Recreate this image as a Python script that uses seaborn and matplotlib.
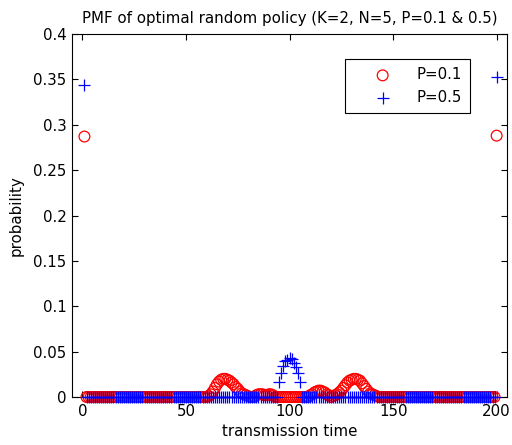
import numpy as np
import pandas as pd
import matplotlib
matplotlib.use("Agg")
import matplotlib.pyplot as plt
import seaborn as sns

# transmission time axis
times = list(range(1, 201))

# P=0.1 : end points and the non-zero bumps
p01_first, p01_last = 0.287, 0.288
p01_bump_x = list(range(61, 81)) + list(range(84, 93)) + list(range(110, 120)) + list(range(121, 143))
p01_bump_y = [0.001, 0.003, 0.006, 0.010, 0.014, 0.017, 0.019, 0.020, 0.020, 0.019,
              0.018, 0.016, 0.014, 0.011, 0.009, 0.006, 0.004, 0.003, 0.002, 0.001,
              0.002, 0.003, 0.003, 0.003, 0.002, 0.002, 0.003, 0.003, 0.002,
              0.002, 0.003, 0.005, 0.006, 0.007, 0.007, 0.006, 0.005, 0.003, 0.002,
              0.001, 0.002, 0.003, 0.005, 0.007, 0.010, 0.013, 0.016, 0.018, 0.019,
              0.020, 0.020, 0.019, 0.018, 0.015, 0.012, 0.009, 0.006, 0.004, 0.003,
              0.002, 0.001]

# P=0.5 : end points and the bump around t=100
p05_first, p05_last = 0.344, 0.353
p05_bump_x = list(range(95, 106))
p05_bump_y = [0.016, 0.026, 0.034, 0.040, 0.041, 0.043, 0.042, 0.037, 0.033, 0.026, 0.016]

p01 = dict.fromkeys(times, 0.0)
p01.update(zip(p01_bump_x, p01_bump_y))
p01[1], p01[200] = p01_first, p01_last
p05 = dict.fromkeys(times, 0.0)
p05.update(zip(p05_bump_x, p05_bump_y))
p05[1], p05[200] = p05_first, p05_last

df = pd.DataFrame({"t": times,
                   "p01": [p01[t] for t in times],
                   "p05": [p05[t] for t in times]})

sns.set_style("ticks")
plt.rcParams["font.family"] = ["DejaVu Sans"]
plt.rcParams["text.color"] = "black"
plt.rcParams["axes.labelcolor"] = "black"
fs = 10.8

fig = plt.figure(figsize=(5.12, 4.45), dpi=100)
ax = fig.add_axes([72 / 512, 48 / 445, 435 / 512, 363 / 445])

sns.scatterplot(data=df, x="t", y="p01", ax=ax, marker="o", s=60,
                facecolors="none", edgecolor="red", linewidth=0.9,
                clip_on=False, label="P=0.1", zorder=3)
sns.scatterplot(data=df, x="t", y="p05", ax=ax, marker="+", s=70,
                color="blue", linewidth=0.9, clip_on=False, label="P=0.5", zorder=4)

ax.set_xlim(-5, 205)
ax.set_ylim(0, 0.4)
ax.set_xticks([0, 50, 100, 150, 200])
ax.set_yticks([0, 0.05, 0.1, 0.15, 0.2, 0.25, 0.3, 0.35, 0.4])
ax.set_yticklabels(["0", "0.05", "0.1", "0.15", "0.2", "0.25", "0.3", "0.35", "0.4"])
ax.tick_params(direction="in", top=True, right=True, length=4, width=0.8,
               labelsize=fs, colors="black")
ax.tick_params(axis="x", pad=5)
ax.tick_params(axis="y", pad=4)
for sp in ax.spines.values():
    sp.set_visible(True)
    sp.set_color("black")
    sp.set_linewidth(0.8)

ax.set_title("PMF of optimal random policy (K=2, N=5, P=0.1 & 0.5)", fontsize=fs, pad=8,
             color="black")
ax.set_xlabel("transmission time", fontsize=fs, labelpad=4)
ax.set_ylabel("probability", fontsize=fs, labelpad=7)

leg = ax.legend(loc="upper right", bbox_to_anchor=(0.915, 0.931), fancybox=False,
                edgecolor="black", framealpha=1, fontsize=fs, handlelength=3.9,
                handletextpad=0.3, borderpad=0.55, labelspacing=0.5, borderaxespad=0)
leg.get_frame().set_linewidth(0.8)
for txt in leg.get_texts():
    txt.set_color("black")

fig.savefig("out.png", dpi=100)
